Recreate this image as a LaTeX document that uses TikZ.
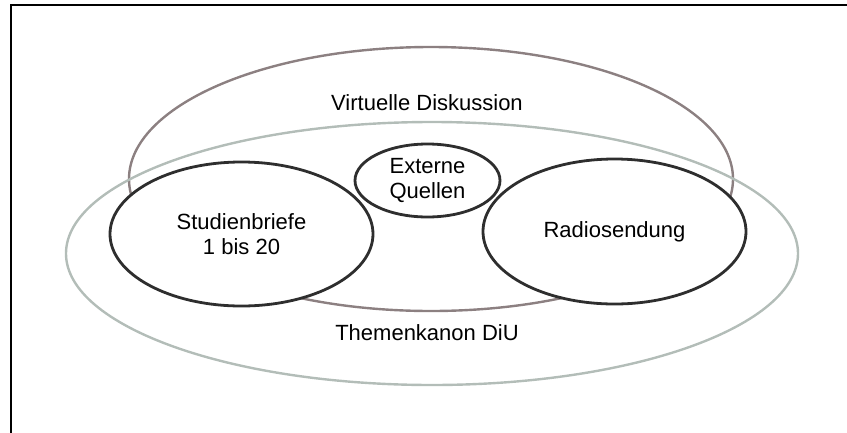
\documentclass[tikz,border=0pt]{standalone}
\usepackage{fontspec}
\setmainfont{Liberation Sans}
\usetikzlibrary{shapes.geometric}
\definecolor{discuss}{HTML}{8C8081}
\definecolor{canon}{HTML}{B3BDB8}
\definecolor{inner}{HTML}{2E2E2E}
\begin{document}
\begin{tikzpicture}[x=1pt,y=-1pt,
  every node/.style={font=\fontsize{22}{25.5}\selectfont, align=center, inner sep=0pt},
  outer/.style={ellipse, draw, line width=2.4pt},
  topic/.style={ellipse, draw=inner, fill=white, line width=2.8pt}]
  \useasboundingbox (0,0) rectangle (847,432);
  % frame (only its left and top sides fall inside the page)
  \draw[line width=1.8pt] (11,440) -- (11,5) -- (860,5);
  % the two large domains
  \node[outer, draw=discuss, minimum width=604pt, minimum height=264pt] (diskussion) at (431,179) {};
  \node[outer, draw=canon, minimum width=732pt, minimum height=263pt] (kanon) at (432,253.5) {};
  \node (diskussionlabel) at (427,103) {Virtuelle Diskussion};
  \node (kanonlabel) at (427,333) {Themenkanon DiU};
  % the three sources
  \node[topic, minimum width=263pt, minimum height=144pt] (briefe) at (241.5,234) {Studienbriefe\\1 bis 20};
  \node[topic, minimum width=263pt, minimum height=145pt] (radio) at (614.5,231.5) {Radiosendung};
  \node[topic, minimum width=145pt, minimum height=73pt] (quellen) at (427.5,180.5) {Externe\\Quellen};
\end{tikzpicture}
\end{document}
